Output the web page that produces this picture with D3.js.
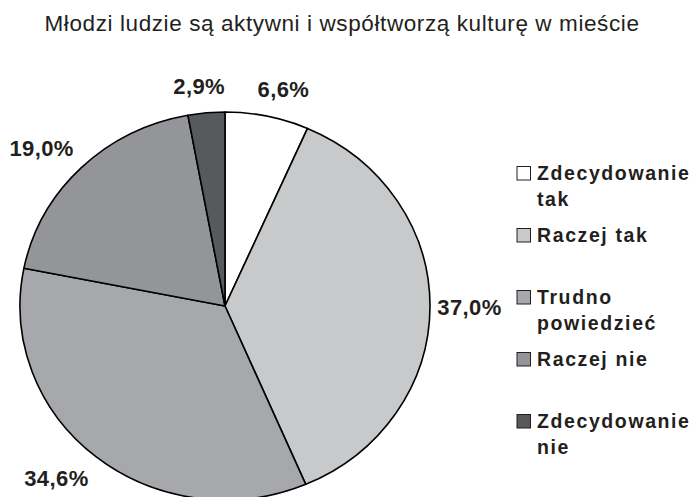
<!DOCTYPE html>
<html>
<head>
<meta charset="utf-8">
<script src="https://cdn.jsdelivr.net/npm/d3@7"></script>
<style>
  body { margin: 0; background: #fff; }
  text { font-family: "Liberation Sans", Arial, sans-serif; fill: #231f20; }
  .title { font-size: 22.5px; letter-spacing: 0.6px; }
  .pct { font-size: 22px; font-weight: bold; letter-spacing: 0.4px; }
  .legend-label { font-size: 19.5px; font-weight: bold; letter-spacing: 1.6px; }
</style>
</head>
<body>
<svg id="chart"></svg>
<script>
// Data
const title = 'Młodzi ludzie są aktywni i współtworzą kulturę w mieście';
const categories = ['Zdecydowanie tak', 'Raczej tak', 'Trudno powiedzieć', 'Raczej nie', 'Zdecydowanie nie'];
const values = [6.6, 37.0, 34.6, 19.0, 2.9];
const colors = ['#ffffff', '#c8c9cb', '#a7a8ab', '#939598', '#58595b'];

const width = 697;
const height = 497;

const svg = d3.select('#chart')
  .attr('width', width)
  .attr('height', height);

// Title
svg.append('text')
  .attr('class', 'title')
  .attr('x', 342)
  .attr('y', 31)
  .attr('text-anchor', 'middle')
  .text(title);

// Pie is slightly stretched horizontally in the original (ellipse)
const cx = 225;
const cy = 306;
const ry = 194;
const rx = 205;
const sx = rx / ry;

const data = categories.map((c, i) => ({ name: c, value: values[i], color: colors[i] }));

const pie = d3.pie()
  .value((d) => d.value)
  .sort(null);

const arc = d3.arc()
  .innerRadius(0)
  .outerRadius(ry);

const arcs = pie(data);

const pieG = svg.append('g')
  .attr('transform', `translate(${cx},${cy}) scale(${sx},1)`);

pieG.selectAll('path')
  .data(arcs)
  .join('path')
  .attr('d', arc)
  .attr('fill', (d) => d.data.color)
  .attr('stroke', '#000')
  .attr('stroke-width', 1.6)
  .attr('stroke-linejoin', 'round')
  .attr('vector-effect', 'non-scaling-stroke');

// Percentage labels: box pushed outward from the edge point at the mid angle
const clamp = (v) => Math.max(-1, Math.min(1, v));
const labelPos = (d) => {
  const a = (d.startAngle + d.endAngle) / 2;
  const ex = cx + rx * Math.sin(a);
  const ey = cy - ry * Math.cos(a);
  return [ex + 39.5 * clamp(2 * Math.sin(a)), ey - 26.5 * clamp(1.05 * Math.cos(a))];
};

svg.append('g')
  .selectAll('text')
  .data(arcs)
  .join('text')
  .attr('class', 'pct')
  .attr('x', (d) => labelPos(d)[0])
  .attr('y', (d) => labelPos(d)[1])
  .attr('text-anchor', 'middle')
  .attr('dominant-baseline', 'central')
  .text((d) => `${d.data.value.toFixed(1).replace('.', ',')}%`);

// Legend
const legendX = 517;
const legendY = 180;
const legendStep = 62;
const lineHeight = 26;
const maxLabelWidth = 162;

const legend = svg.append('g');

data.forEach((d, i) => {
  const y = legendY + i * legendStep;
  legend.append('rect')
    .attr('x', legendX)
    .attr('y', y - 13.5)
    .attr('width', 13.5)
    .attr('height', 13.5)
    .attr('fill', d.color)
    .attr('stroke', '#231f20')
    .attr('stroke-width', 1);

  const label = legend.append('text')
    .attr('class', 'legend-label')
    .attr('x', legendX + 20)
    .attr('y', y);

  // greedy word wrap
  const words = d.name.split(' ');
  let line = [];
  let tspan = label.append('tspan').attr('x', legendX + 20).attr('dy', 0);
  words.forEach((w) => {
    line.push(w);
    tspan.text(line.join(' '));
    if (tspan.node().getComputedTextLength() > maxLabelWidth && line.length > 1) {
      line.pop();
      tspan.text(line.join(' '));
      line = [w];
      tspan = label.append('tspan')
        .attr('x', legendX + 20)
        .attr('dy', lineHeight)
        .text(w);
    }
  });
});
</script>
</body>
</html>
